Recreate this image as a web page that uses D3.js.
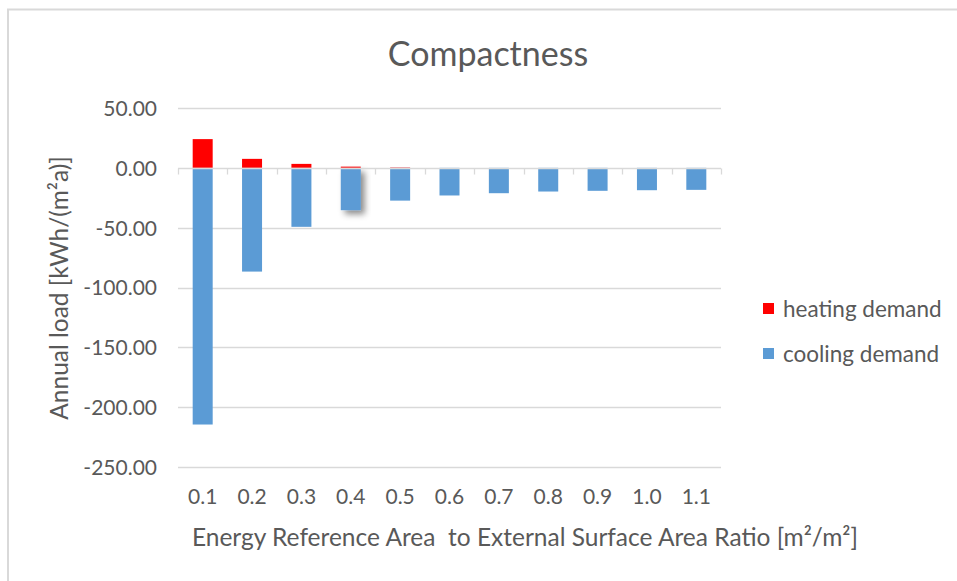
<!DOCTYPE html>
<html>
<head>
<meta charset="utf-8">
<script src="https://cdn.jsdelivr.net/npm/d3@7"></script>
<style>
  html, body { margin: 0; padding: 0; background: #fff; }
  svg { display: block; font-family: Lato, "Open Sans", sans-serif; }
</style>
</head>
<body>
<svg id="chart" width="957" height="581"></svg>
<script>
// Ratio categories (m²/m²)
const categories = ["0.1", "0.2", "0.3", "0.4", "0.5", "0.6", "0.7", "0.8", "0.9", "1.0", "1.1"];
// Annual loads in kWh/(m²a)
const heatingDemand = [24.0, 7.5, 3.3, 1.0, 0.3, 0.0, 0.0, 0.0, 0.0, 0.0, 0.0];
const coolingDemand = [-214.5, -86.7, -49.3, -35.4, -27.4, -23.1, -21.2, -19.8, -19.2, -18.7, -18.4];
const yTicks = [50, 0, -50, -100, -150, -200, -250];
const seriesNames = ["heating demand", "cooling demand"];
const seriesColors = ["#ff0000", "#5b9bd5"];

const svg = d3.select("#chart");
const textColor = "#595959";
const gridColor = "#d9d9d9";

// outer chart frame
svg.append("path")
  .attr("d", "M8,581 V9.5 H957")
  .attr("fill", "none")
  .attr("stroke", gridColor)
  .attr("stroke-width", 2);

const plot = { left: 178, right: 721, top: 108, bottom: 467 };

const x = d3.scaleBand().domain(categories).range([plot.left, plot.right]).paddingInner(0).paddingOuter(0);
const y = d3.scaleLinear().domain([-250, 50]).range([plot.bottom, plot.top]);
const barW = 20;

// drop shadow used for the highlighted bar
const defs = svg.append("defs");
const f = defs.append("filter").attr("id", "shadow").attr("x", "-50%").attr("y", "-50%").attr("width", "200%").attr("height", "200%");
f.append("feDropShadow").attr("dx", 4).attr("dy", 4).attr("stdDeviation", 3).attr("flood-color", "#000").attr("flood-opacity", 0.45);

// gridlines
svg.append("g").selectAll("line").data(yTicks.filter(d => d !== 0)).join("line")
  .attr("x1", plot.left).attr("x2", plot.right)
  .attr("y1", d => Math.round(y(d)) + 0.5).attr("y2", d => Math.round(y(d)) + 0.5)
  .attr("stroke", gridColor).attr("stroke-width", 1.3);

// y tick labels (plain hyphen for negatives)
const fmt = d => d3.format(".2f")(d).replace("\u2212", "-");
const yAxis = d3.axisLeft(y).tickValues(yTicks).tickFormat(fmt).tickSize(0).tickPadding(21);
const gy = svg.append("g").attr("transform", `translate(${plot.left},0)`).call(yAxis);
gy.select(".domain").remove();
gy.selectAll("text").attr("fill", textColor).attr("font-size", 21).attr("font-family", "Lato, sans-serif")
  .attr("dy", "0.35em");

// bars
const barG = svg.append("g");
barG.selectAll("rect.cool").data(categories).join("rect")
  .attr("class", "cool")
  .attr("x", d => x(d) + (x.bandwidth() - barW) / 2)
  .attr("width", barW)
  .attr("y", y(0))
  .attr("height", (d, i) => y(coolingDemand[i]) - y(0))
  .attr("fill", seriesColors[1])
  .attr("filter", (d, i) => i === 3 ? "url(#shadow)" : null);
barG.selectAll("rect.heat").data(categories).join("rect")
  .attr("class", "heat")
  .attr("x", d => x(d) + (x.bandwidth() - barW) / 2)
  .attr("width", barW)
  .attr("y", (d, i) => y(heatingDemand[i]))
  .attr("height", (d, i) => y(0) - y(heatingDemand[i]))
  .attr("fill", seriesColors[0]);

// category axis at zero
const xAxis = d3.axisBottom(x).tickSize(0).tickFormat(d => d);
const gx = svg.append("g").attr("transform", `translate(0,${Math.round(y(0)) + 0.5})`);
gx.append("line").attr("x1", plot.left).attr("x2", plot.right).attr("stroke", gridColor).attr("stroke-width", 1.3);
const bounds = categories.map(c => x(c)).concat([plot.right]);
gx.selectAll("line.tick").data(bounds).join("line")
  .attr("class", "tick")
  .attr("x1", d => Math.round(d) + 0.5).attr("x2", d => Math.round(d) + 0.5)
  .attr("y1", 0).attr("y2", 6)
  .attr("stroke", gridColor).attr("stroke-width", 1.3);

// category labels below the plot
const gl = svg.append("g").attr("transform", `translate(0,${plot.bottom})`).call(xAxis);
gl.select(".domain").remove();
gl.selectAll("text").attr("fill", textColor).attr("font-size", 21).attr("font-family", "Lato, sans-serif")
  .attr("dy", 0).attr("y", 37);

// title
svg.append("text").attr("x", 488).attr("y", 66).attr("text-anchor", "middle")
  .attr("fill", textColor).attr("font-size", 34).text("Compactness");

// axis titles
svg.append("text").attr("x", 525).attr("y", 546).attr("text-anchor", "middle")
  .attr("fill", textColor).attr("font-size", 24.5).text("Energy Reference Area  to External Surface Area Ratio [m²/m²]")
  .style("white-space", "pre");
svg.append("text").attr("transform", "translate(68,288) rotate(-90)").attr("text-anchor", "middle")
  .attr("fill", textColor).attr("font-size", 24.5).text("Annual load [kWh/(m²a)]");

// legend
const lg = svg.append("g").attr("transform", "translate(763,0)");
const legendY = [309, 354];
seriesNames.forEach((name, i) => {
  lg.append("rect").attr("x", 0).attr("y", legendY[i] - 6).attr("width", 11).attr("height", 11).attr("fill", seriesColors[i]);
  lg.append("text").attr("x", 20).attr("y", legendY[i]).attr("dy", "0.35em")
    .attr("fill", textColor).attr("font-size", 22.5).text(name);
});
</script>
</body>
</html>
